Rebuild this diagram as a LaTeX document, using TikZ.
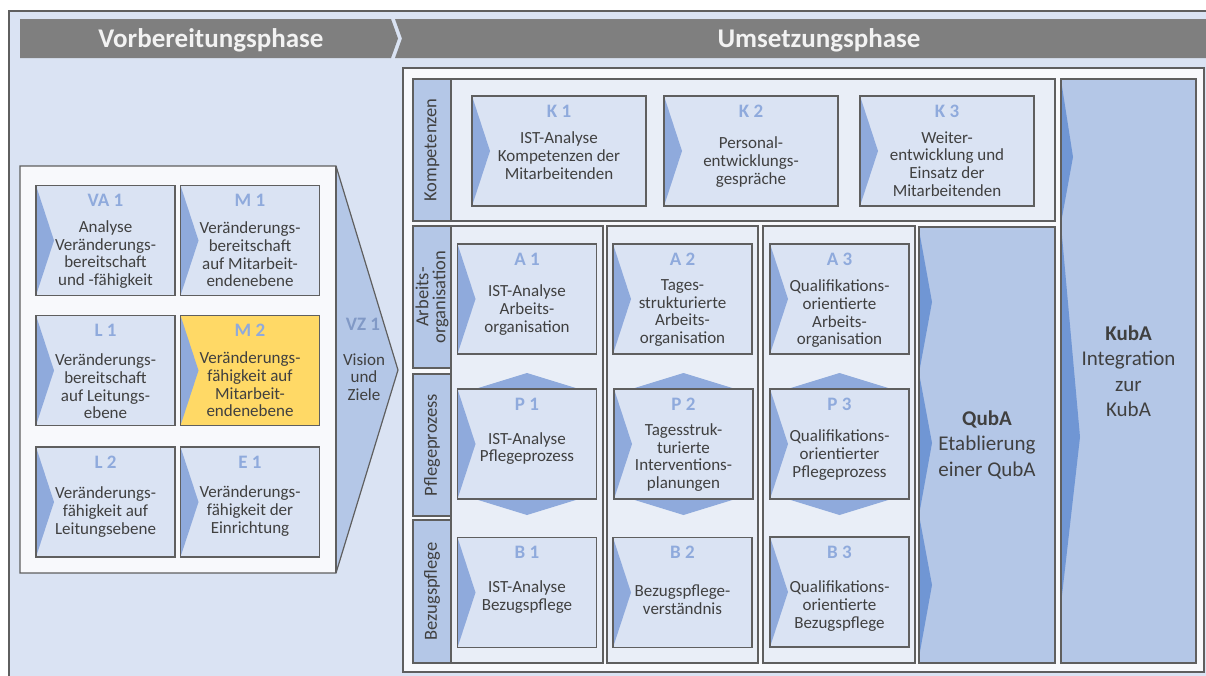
\documentclass[tikz,border=0pt]{standalone}
\usepackage{fontspec}
\setmainfont{Carlito}

\definecolor{framebg}{HTML}{DAE3F3}
\definecolor{bannergray}{HTML}{7F7F7F}
\definecolor{bannertext}{HTML}{F2F2F2}
\definecolor{boxwhite}{HTML}{F8F9FC}
\definecolor{rowfill}{HTML}{E9EEF7}
\definecolor{cardblue}{HTML}{DAE3F3}
\definecolor{cardyellow}{HTML}{FFD966}
\definecolor{chevlight}{HTML}{8FAADC}
\definecolor{labelblue}{HTML}{B4C7E7}
\definecolor{chevdark}{HTML}{7096D4}
\definecolor{linegray}{HTML}{5F5F5F}
\definecolor{titleblue}{HTML}{8FAADC}
\definecolor{textgray}{HTML}{404040}

\begin{document}
\begin{tikzpicture}
[x=1pt,y=-1pt,
  borderdecorate/.style={draw=linegray,line width=1.2pt},
  carddecorate/.style={draw=linegray,line width=1.5pt,inner sep=0pt,
    minimum width=139pt,minimum height=110pt,
    path picture={\fill[chevlight] (path picture bounding box.north west)
      -- ([xshift=18pt]path picture bounding box.west)
      -- (path picture bounding box.south west) -- cycle;}},
  titledecorate/.style={inner sep=0pt,text=titleblue,font=\fontsize{19}{21}\selectfont\bfseries},
  textdecorate/.style={inner sep=0pt,text=textgray,align=center,font=\fontsize{17}{17.7}\selectfont},
  labeldecorate/.style={borderdecorate,fill=labelblue,rotate=90,inner sep=0pt,align=center,
    text=textgray,font=\fontsize{18.5}{17}\selectfont},
  columndecorate/.style={borderdecorate,fill=labelblue,inner sep=0pt,align=center,
    text=textgray,font=\fontsize{21}{25.5}\selectfont},
  bannerdecorate/.style={anchor=base,inner sep=0pt,text=bannertext,
    font=\fontsize{27}{30}\selectfont\bfseries}]

\useasboundingbox (0,0) rectangle (1206,675);

%% background frame and phase banners
\filldraw[fill=framebg,draw=linegray,line width=1.2pt] (9,11) rectangle (1215,685);
\fill[bannergray] (20,19) -- (391,19) -- (398,38.5) -- (391,58) -- (20,58) -- cycle;
\fill[bannergray] (395,19) -- (1210,19) -- (1210,58) -- (395,58) -- (402,38.5) -- cycle;
\node (prepbanner) at (211,47) [bannerdecorate] {Vorbereitungsphase};
\node (implbanner) at (819,47) [bannerdecorate] {Umsetzungsphase};

%% preparation block with vision arrow
\fill[boxwhite] (20,166) rectangle (336,573);
\fill[labelblue] (336,166) -- (398,370) -- (336,573) -- cycle;
\draw[borderdecorate] (20,166) -- (336,166) -- (398,370) -- (336,573) -- (20,573) -- cycle;
\draw[borderdecorate] (336,166) -- (336,573);
\node (VZ1 title) at (363,324) [titledecorate,text=chevlight!90!black] {VZ 1};
\node (VZ1 text) at (364,377) [textdecorate] {Vision\\und\\Ziele};

%% implementation block
\filldraw[fill=boxwhite,draw=linegray,line width=1.2pt] (403,68) rectangle (1204,672);
\filldraw[fill=rowfill,borderdecorate] (413,79) rectangle (1055,221);
\foreach \x/\xx in {451/603, 607/758, 763/915}
{
  \filldraw[fill=rowfill,borderdecorate] (\x,226) rectangle (\xx,663);
}

%% row labels
\node (kompLabel) at (432,150) [labeldecorate,minimum width=142pt,minimum height=38pt] {Kompetenzen};
\node (arbLabel) at (432,297) [labeldecorate,minimum width=142pt,minimum height=38pt] {Arbeits-\\organisation};
\node (pflLabel) at (432,445) [labeldecorate,minimum width=142pt,minimum height=38pt] {Pflegeprozess};
\node (bezLabel) at (432,591.5) [labeldecorate,minimum width=143pt,minimum height=38pt] {Bezugspflege};

%% double arrows behind the care process cards
\foreach \x in {527,683.5,839.5}
{
  \fill[chevlight] (\x-52,389) -- (\x,373) -- (\x+52,389)
    -- (\x+52,499) -- (\x,515) -- (\x-52,499) -- cycle;
}

%% cards
\foreach \nodename/\x/\y/\dy/\cardfill/\title/\body in {
  VA1/105.5/240.5/14/cardblue/{VA 1}/{Analyse\\Veränderungs-\\bereitschaft\\und -fähigkeit},
  M1/250/240.5/14/cardblue/{M 1}/{Veränderungs-\\bereitschaft\\auf Mitarbeit-\\endenebene},
  L1/105.5/370.5/16/cardblue/{L 1}/{Veränderungs-\\bereitschaft\\auf Leitungs-\\ebene},
  M2/250/370.5/14/cardyellow/{M 2}/{Veränderungs-\\fähigkeit auf\\Mitarbeit-\\endenebene},
  L2/105.5/502/10/cardblue/{L 2}/{Veränderungs-\\fähigkeit auf\\Leitungsebene},
  E1/250/502/9/cardblue/{E 1}/{Veränderungs-\\fähigkeit der\\Einrichtung},
  A1/527/299/11/cardblue/{A 1}/{IST-Analyse\\Arbeits-\\organisation},
  A2/682.5/299/14/cardblue/{A 2}/{Tages-\\strukturierte\\Arbeits-\\organisation},
  A3/839.5/299/15/cardblue/{A 3}/{Qualifikations-\\orientierte\\Arbeits-\\organisation},
  P1/527/444/4.5/cardblue/{P 1}/{IST-Analyse\\Pflegeprozess},
  P2/683.5/444/13.5/cardblue/{P 2}/{Tagesstruk-\\turierte\\Interventions-\\planungen},
  P3/839.5/444/11/cardblue/{P 3}/{Qualifikations-\\orientierter\\Pflegeprozess},
  B1/527/592.5/4.5/cardblue/{B 1}/{IST-Analyse\\Bezugspflege},
  B2/682.5/592.5/7.5/cardblue/{B 2}/{Bezugspflege-\\verständnis},
  B3/839.5/592/14/cardblue/{B 3}/{Qualifikations-\\orientierte\\Bezugspflege}}
{
  \node (\nodename) at (\x,\y) [carddecorate,fill=\cardfill] {};
  \node (\nodename title) at ([yshift=-16pt]\nodename.north) [titledecorate] {\title};
  \node (\nodename text) at ([yshift=-\dy pt]\nodename.center) [textdecorate] {\body};
}
\foreach \nodename/\x/\dy/\title/\body in {
  K1/559/4.5/{K 1}/{IST-Analyse\\Kompetenzen der\\Mitarbeitenden},
  K2/751/11/{K 2}/{Personal-\\entwicklungs-\\gespräche},
  K3/947/13/{K 3}/{Weiter-\\entwicklung und\\Einsatz der\\Mitarbeitenden}}
{
  \node (\nodename) at (\x,151) [carddecorate,minimum width=174pt,fill=cardblue] {};
  \node (\nodename title) at ([yshift=-16pt]\nodename.north) [titledecorate] {\title};
  \node (\nodename text) at ([yshift=-\dy pt]\nodename.center) [textdecorate] {\body};
}

%% QubA and KubA columns
\node (QubA) at (987,445) [columndecorate,minimum width=136pt,minimum height=436pt,
  path picture={\foreach \ya/\yb/\yc/\w in {3/75/146/13, 146/216/288/13, 288/358/430/13}
    {\fill[chevdark] ([yshift=-\ya pt]path picture bounding box.north west)
      -- ([shift={(\w pt,-\yb pt)}]path picture bounding box.north west)
      -- ([yshift=-\yc pt]path picture bounding box.north west) -- cycle;}}]
  {\textbf{QubA}\\Etablierung\\einer QubA};
\node (KubA) at (1128.5,371) [columndecorate,minimum width=135pt,minimum height=584pt,
  path picture={\foreach \ya/\yb/\yc/\w in {1/78/144/12, 146/358/525/19}
    {\fill[chevdark] ([yshift=-\ya pt]path picture bounding box.north west)
      -- ([shift={(\w pt,-\yb pt)}]path picture bounding box.north west)
      -- ([yshift=-\yc pt]path picture bounding box.north west) -- cycle;}}]
  {\textbf{KubA}\\Integration\\zur\\KubA};
\end{tikzpicture}
\end{document}
